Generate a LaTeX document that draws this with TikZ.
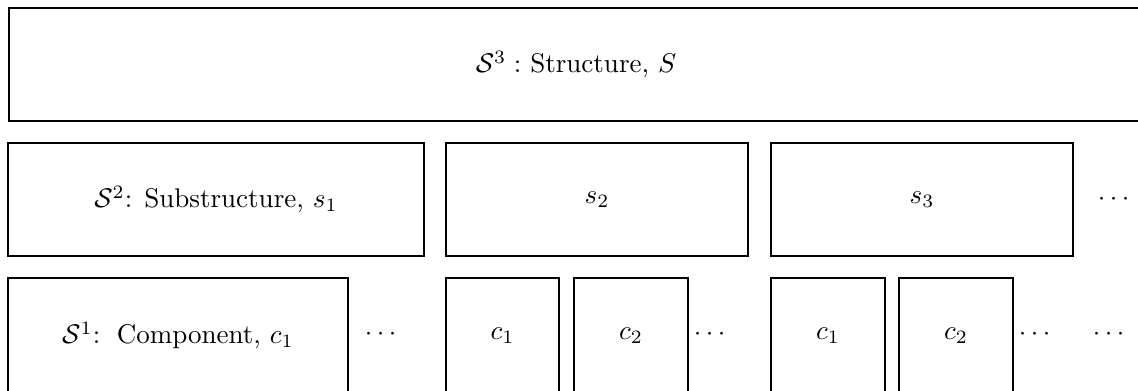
\documentclass[tikz,border=0pt]{standalone}
\usepackage{amsmath}
\begin{document}
\begin{tikzpicture}[x=0.37pt,y=-0.37pt,
  blk/.style={draw, line width=0.4pt, inner sep=0pt, minimum height=113*0.37pt, font=\fontsize{10}{12}\selectfont},
  lowblk/.style={blk, minimum height=115*0.37pt},
  dotsnode/.style={inner sep=0pt, font=\fontsize{10}{12}\selectfont}]
\useasboundingbox (0,0) rectangle (1138,390);
\clip (0,0) rectangle (1138,390);
% level 3
\node[blk, minimum width=1134*0.37pt] (S3) at (576,64.5) {$\mathcal{S}^3 :$ Structure, $S$\hspace{2.2pt}};
% level 2
\node[blk, minimum width=416*0.37pt] (s1) at (216,199.5) {$\mathcal{S}^2$: Substructure, $s_1$};
\node[blk, minimum width=302*0.37pt] (s2) at (597,199.5) {$s_2$};
\node[blk, minimum width=302*0.37pt] (s3) at (922,199.5) {$s_3$};
\node[dotsnode] (d2) at (1116,199.5) {$\cdots$};
% level 1
\node[lowblk, minimum width=340*0.37pt] (c0) at (178,335.5) {$\mathcal{S}^1$:\, Component, $c_1$};
\node[dotsnode] (d10) at (383,334.5) {$\cdots$};
\node[lowblk, minimum width=113*0.37pt] (c21) at (502.5,335.5) {$c_1$};
\node[lowblk, minimum width=114*0.37pt] (c22) at (631,335.5) {$c_2$};
\node[dotsnode] (d11) at (712,334.5) {$\cdots$};
\node[lowblk, minimum width=114*0.37pt] (c31) at (828,335.5) {$c_1$};
\node[lowblk, minimum width=114*0.37pt] (c32) at (956,335.5) {$c_2$};
\node[dotsnode] (d12) at (1037,334.5) {$\cdots$};
\node[dotsnode] (d13) at (1111,334.5) {$\cdots$};
\end{tikzpicture}
\end{document}
